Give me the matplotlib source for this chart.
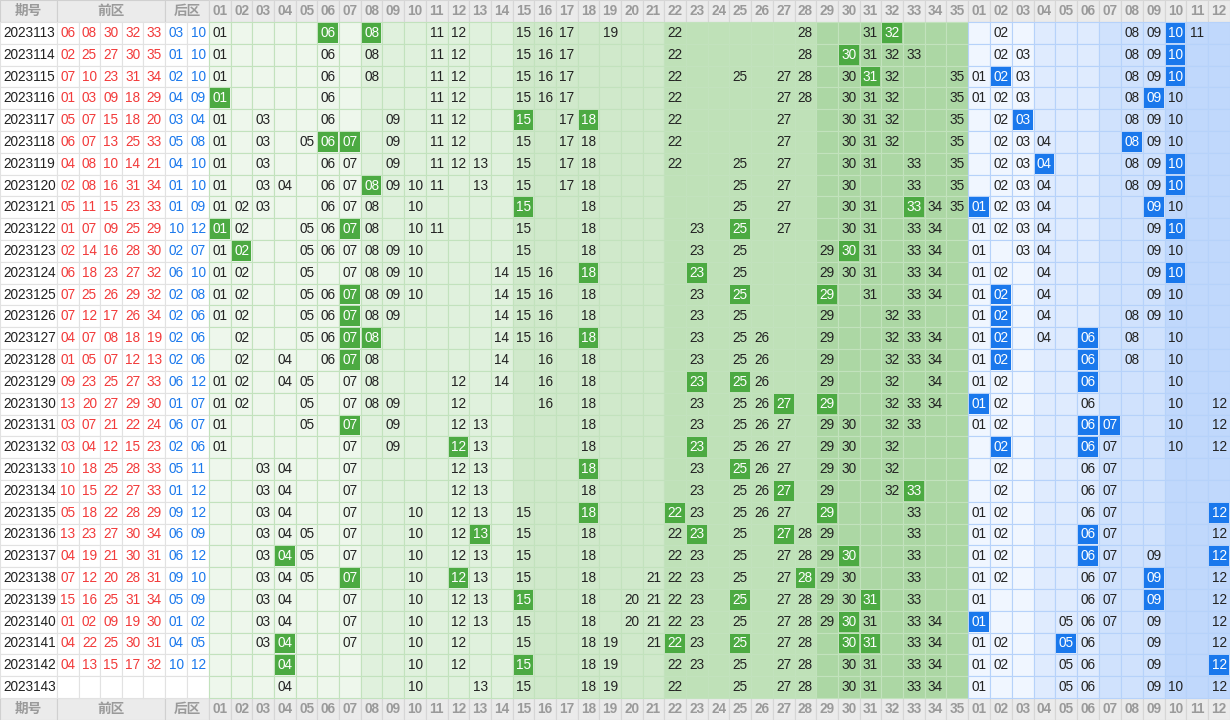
import numpy as np
import matplotlib.pyplot as plt
from matplotlib.patches import Rectangle

plt.rcParams['font.family'] = ['Liberation Sans', 'Noto Sans CJK SC', 'DejaVu Sans']

issues = list(range(2023113, 2023144))

front_draw = [
    [6, 8, 30, 32, 33], [2, 25, 27, 30, 35], [7, 10, 23, 31, 34], [1, 3, 9, 18, 29],
    [5, 7, 15, 18, 20], [6, 7, 13, 25, 33], [4, 8, 10, 14, 21], [2, 8, 16, 31, 34],
    [5, 11, 15, 23, 33], [1, 7, 9, 25, 29], [2, 14, 16, 28, 30], [6, 18, 23, 27, 32],
    [7, 25, 26, 29, 32], [7, 12, 17, 26, 34], [4, 7, 8, 18, 19], [1, 5, 7, 12, 13],
    [9, 23, 25, 27, 33], [13, 20, 27, 29, 30], [3, 7, 21, 22, 24], [3, 4, 12, 15, 23],
    [10, 18, 25, 28, 33], [10, 15, 22, 27, 33], [5, 18, 22, 28, 29], [13, 23, 27, 30, 34],
    [4, 19, 21, 30, 31], [7, 12, 20, 28, 31], [15, 16, 25, 31, 34], [1, 2, 9, 19, 30],
    [4, 22, 25, 30, 31], [4, 13, 15, 17, 32], [],
]
back_draw = [
    [3, 10], [1, 10], [2, 10], [4, 9], [3, 4], [5, 8], [4, 10], [1, 10],
    [1, 9], [10, 12], [2, 7], [6, 10], [2, 8], [2, 6], [2, 6], [2, 6],
    [6, 12], [1, 7], [6, 7], [2, 6], [5, 11], [1, 12], [9, 12], [6, 9],
    [6, 12], [9, 10], [5, 9], [1, 2], [4, 5], [10, 12], [],
]

# numbers shown in the front-zone grid per row
front_shown = [
    [1, 6, 8, 11, 12, 15, 16, 17, 19, 22, 28, 31, 32],
    [1, 6, 8, 11, 12, 15, 16, 17, 22, 28, 30, 31, 32, 33],
    [1, 6, 8, 11, 12, 15, 16, 17, 22, 25, 27, 28, 30, 31, 32, 35],
    [1, 6, 11, 12, 15, 16, 17, 22, 27, 28, 30, 31, 32, 35],
    [1, 3, 6, 9, 11, 12, 15, 17, 18, 22, 27, 30, 31, 32, 35],
    [1, 3, 5, 6, 7, 9, 11, 12, 15, 17, 18, 22, 27, 30, 31, 32, 35],
    [1, 3, 6, 7, 9, 11, 12, 13, 15, 17, 18, 22, 25, 27, 30, 31, 33, 35],
    [1, 3, 4, 6, 7, 8, 9, 10, 11, 13, 15, 17, 18, 25, 27, 30, 33, 35],
    [1, 2, 3, 6, 7, 8, 10, 15, 18, 25, 27, 30, 31, 33, 34, 35],
    [1, 2, 5, 6, 7, 8, 10, 11, 15, 18, 23, 25, 27, 30, 31, 33, 34],
    [1, 2, 5, 6, 7, 8, 9, 10, 15, 18, 23, 25, 29, 30, 31, 33, 34],
    [1, 2, 5, 7, 8, 9, 10, 14, 15, 16, 18, 23, 25, 29, 30, 31, 33, 34],
    [1, 2, 5, 6, 7, 8, 9, 10, 14, 15, 16, 18, 23, 25, 29, 31, 33, 34],
    [1, 2, 5, 6, 7, 8, 9, 14, 15, 16, 18, 23, 25, 29, 32, 33],
    [2, 5, 6, 7, 8, 14, 15, 16, 18, 23, 25, 26, 29, 32, 33, 34],
    [2, 4, 6, 7, 8, 14, 16, 18, 23, 25, 26, 29, 32, 33, 34],
    [1, 2, 4, 5, 7, 8, 12, 14, 16, 18, 23, 25, 26, 29, 32, 34],
    [1, 2, 5, 7, 8, 9, 12, 16, 18, 23, 25, 26, 27, 29, 32, 33, 34],
    [1, 5, 7, 9, 12, 13, 18, 23, 25, 26, 27, 29, 30, 32, 33],
    [1, 7, 9, 12, 13, 18, 23, 25, 26, 27, 29, 30, 32],
    [3, 4, 7, 12, 13, 18, 23, 25, 26, 27, 29, 30, 32],
    [3, 4, 7, 12, 13, 18, 23, 25, 26, 27, 29, 32, 33],
    [3, 4, 7, 10, 12, 13, 15, 18, 22, 23, 25, 26, 27, 29, 33],
    [3, 4, 5, 7, 10, 12, 13, 15, 18, 22, 23, 25, 27, 28, 29, 33],
    [3, 4, 5, 7, 10, 12, 13, 15, 18, 22, 23, 25, 27, 28, 29, 30, 33],
    [3, 4, 5, 7, 10, 12, 13, 15, 18, 21, 22, 23, 25, 27, 28, 29, 30, 33],
    [3, 4, 7, 10, 12, 13, 15, 18, 20, 21, 22, 23, 25, 27, 28, 29, 30, 31, 33],
    [3, 4, 7, 10, 12, 13, 15, 18, 20, 21, 22, 23, 25, 27, 28, 29, 30, 31, 33, 34],
    [3, 4, 7, 10, 12, 15, 18, 19, 21, 22, 23, 25, 27, 28, 30, 31, 33, 34],
    [4, 10, 12, 15, 18, 19, 22, 23, 25, 27, 28, 30, 31, 33, 34],
    [4, 10, 13, 15, 18, 19, 22, 25, 27, 28, 30, 31, 33, 34],
]
back_shown = [
    [2, 8, 9, 10, 11], [2, 3, 8, 9, 10], [1, 2, 3, 8, 9, 10], [1, 2, 3, 8, 9, 10],
    [2, 3, 8, 9, 10], [2, 3, 4, 8, 9, 10], [2, 3, 4, 8, 9, 10], [2, 3, 4, 8, 9, 10],
    [1, 2, 3, 4, 9, 10], [1, 2, 3, 4, 9, 10], [1, 3, 4, 9, 10], [1, 2, 4, 9, 10],
    [1, 2, 4, 9, 10], [1, 2, 4, 8, 9, 10], [1, 2, 4, 6, 8, 10], [1, 2, 6, 8, 10],
    [1, 2, 6, 10], [1, 2, 6, 10, 12], [1, 2, 6, 7, 10, 12], [2, 6, 7, 10, 12],
    [2, 6, 7], [2, 6, 7], [1, 2, 6, 7, 12], [1, 2, 6, 7, 12],
    [1, 2, 6, 7, 9, 12], [1, 2, 6, 7, 9, 12], [1, 6, 7, 9, 12], [1, 5, 6, 7, 9, 12],
    [1, 2, 5, 6, 9, 12], [1, 2, 5, 6, 9, 12], [1, 5, 6, 9, 10, 12],
]

W, H = 1230, 720
fig = plt.figure(figsize=(W / 100, H / 100), dpi=100)
ax = fig.add_axes([0, 0, 1, 1])
ax.set_xlim(0, W)
ax.set_ylim(H, 0)
ax.axis('off')

top, bot = 22, 698
rh = (bot - top) / len(issues)
x_id = (0, 57)
x_fd = np.linspace(57, 165, 6)
x_bd = np.linspace(165, 209, 3)
x_fz = np.linspace(209, 968, 36)
x_bz = np.linspace(968, 1230, 13)

front_bg = ['#eef7ec', '#e0f1dd', '#d0e9cb', '#bfe1b8', '#acd7a4']
back_bg = ['#f0f6ff', '#dfebfe', '#d0e2fd', '#c0d8fc']
fz_edge = '#c2e2bd'
bz_edge = '#b6d2fa'
green = '#4caa42'
blue = '#1a78ec'
fs = 9.8


def cell(x0, x1, y0, y1, fc, ec):
    ax.add_patch(Rectangle((x0, y0), x1 - x0, y1 - y0, facecolor=fc, edgecolor=ec, lw=0.8))


def header(y0, y1):
    cell(0, W, y0, y1, '#ebebeb', '#d6d6d6')
    hc = '#9a9a9a'
    yc = (y0 + y1) / 2
    for (a, b), t in [((0, 57), '期号'), ((57, 165), '前区'), ((165, 209), '后区')]:
        cell(a, b, y0, y1, '#ebebeb', '#d0d0d0')
        ax.text((a + b) / 2, yc, t, ha='center', va='center', fontsize=fs, color=hc, fontweight='bold')
    for i in range(35):
        cell(x_fz[i], x_fz[i + 1], y0, y1, '#ebebeb', '#d6d6d6')
        ax.text((x_fz[i] + x_fz[i + 1]) / 2, yc, '%02d' % (i + 1), ha='center', va='center',
                fontsize=fs, color=hc, fontweight='bold')
    for i in range(12):
        cell(x_bz[i], x_bz[i + 1], y0, y1, '#ebebeb', '#d6d6d6')
        ax.text((x_bz[i] + x_bz[i + 1]) / 2, yc, '%02d' % (i + 1), ha='center', va='center',
                fontsize=fs, color=hc, fontweight='bold')


header(0, top)
header(bot, H)

for r, issue in enumerate(issues):
    y0 = top + r * rh
    y1 = y0 + rh
    yc = (y0 + y1) / 2
    cell(x_id[0], x_id[1], y0, y1, 'white', '#e2e2e2')
    ax.text(3, yc, str(issue), ha='left', va='center', fontsize=fs, color='#222222')
    for i in range(5):
        cell(x_fd[i], x_fd[i + 1], y0, y1, 'white', '#e2e2e2')
        if front_draw[r]:
            ax.text((x_fd[i] + x_fd[i + 1]) / 2, yc, '%02d' % front_draw[r][i],
                    ha='center', va='center', fontsize=fs, color='#f23a3a')
    for i in range(2):
        cell(x_bd[i], x_bd[i + 1], y0, y1, 'white', '#e2e2e2')
        if back_draw[r]:
            ax.text((x_bd[i] + x_bd[i + 1]) / 2, yc, '%02d' % back_draw[r][i],
                    ha='center', va='center', fontsize=fs, color='#1a78ec')
    for i in range(35):
        n = i + 1
        xa, xb = x_fz[i], x_fz[i + 1]
        cell(xa, xb, y0, y1, front_bg[i // 7], fz_edge)
        if n in front_shown[r]:
            col = '#222222'
            if n in front_draw[r]:
                ax.add_patch(Rectangle((xa + 1, y0 + 1), xb - xa - 2, rh - 2, facecolor=green, lw=0))
                col = 'white'
            ax.text((xa + xb) / 2, yc, '%02d' % n, ha='center', va='center', fontsize=fs, color=col)
    for i in range(12):
        n = i + 1
        xa, xb = x_bz[i], x_bz[i + 1]
        cell(xa, xb, y0, y1, back_bg[i // 3], bz_edge)
        if n in back_shown[r]:
            col = '#222222'
            if n in back_draw[r]:
                ax.add_patch(Rectangle((xa + 1, y0 + 1), xb - xa - 2, rh - 2, facecolor=blue, lw=0))
                col = 'white'
            ax.text((xa + xb) / 2, yc, '%02d' % n, ha='center', va='center', fontsize=fs, color=col)

fig.savefig('out.png', dpi=100)
